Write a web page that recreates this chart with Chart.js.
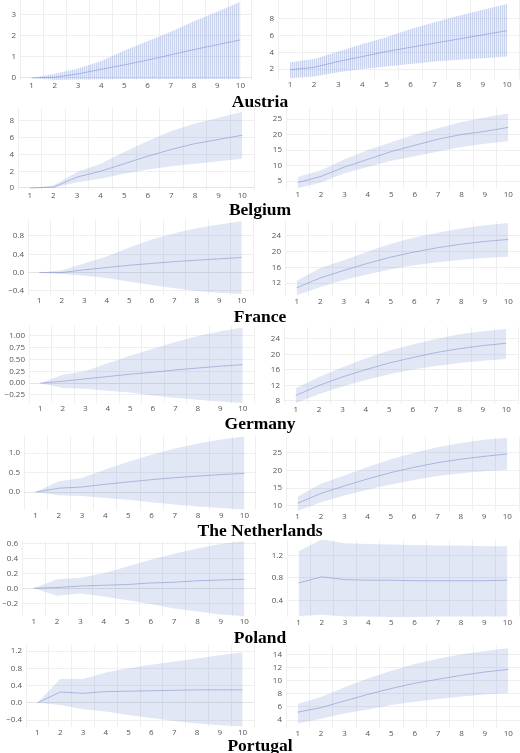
<!DOCTYPE html>
<html>
<head>
<meta charset="utf-8">
<script src="https://cdn.jsdelivr.net/npm/chart.js@4.4.1/dist/chart.umd.min.js"></script>
<style>
  body { margin: 0; background: #fff; width: 520px; height: 753px; overflow: hidden; position: relative; }
  canvas { position: absolute; }
  .country {
    position: absolute; left: 0; width: 520px; text-align: center;
    font: bold 17.5px "Liberation Serif", "Times New Roman", serif; line-height: 18px; color: #000;
  }
</style>
</head>
<body>
<script>
const steps = ['1', '2', '3', '4', '5', '6', '7', '8', '9', '10']

// Austria
const austriaLeftMean = [0, 0.03, 0.19, 0.41, 0.62, 0.85, 1.1, 1.35, 1.58, 1.81]
const austriaLeftUpper = [0, 0.2, 0.45, 0.8, 1.3, 1.75, 2.2, 2.7, 3.15, 3.63]
const austriaLeftLower = [0, -0.1, -0.08, -0.06, -0.05, -0.05, -0.05, -0.05, -0.05, -0.05]
const austriaLeftTicks = [0, 1, 2, 3]
const austriaRightMean = [1.9, 2.2, 2.9, 3.5, 4.1, 4.6, 5.1, 5.6, 6.1, 6.6]
const austriaRightUpper = [2.8, 3.2, 4.1, 5.0, 5.8, 6.8, 7.6, 8.4, 9.1, 9.8]
const austriaRightLower = [0.9, 1.1, 1.6, 2.0, 2.3, 2.6, 2.9, 3.1, 3.3, 3.5]
const austriaRightTicks = [2, 4, 6, 8]

// Belgium
const belgiumLeftMean = [0, 0.1, 1.3, 2.0, 2.9, 3.8, 4.6, 5.3, 5.8, 6.3]
const belgiumLeftUpper = [0, 0.3, 1.9, 2.9, 4.3, 5.6, 6.8, 7.7, 8.4, 9.1]
const belgiumLeftLower = [0, 0, 0.7, 1.1, 1.7, 2.2, 2.6, 2.9, 3.2, 3.5]
const belgiumLeftTicks = [0, 2, 4, 6, 8]
const belgiumRightMean = [4.5, 6.5, 9.5, 12, 14.5, 16.5, 18.5, 20, 21, 22.3]
const belgiumRightUpper = [6.3, 8.5, 12, 15, 17.5, 20, 22, 24, 25.5, 26.8]
const belgiumRightLower = [2.7, 4.5, 7.5, 9.5, 11.5, 13, 14.5, 16, 17, 17.8]
const belgiumRightTicks = [5, 10, 15, 20, 25]

// France
const franceLeftMean = [0, 0, 0.06, 0.11, 0.16, 0.2, 0.24, 0.27, 0.3, 0.33]
const franceLeftUpper = [0, 0.05, 0.2, 0.35, 0.55, 0.72, 0.86, 0.97, 1.05, 1.12]
const franceLeftLower = [0, -0.03, -0.07, -0.12, -0.2, -0.27, -0.34, -0.4, -0.44, -0.47]
const franceLeftTicks = [-0.4, 0, 0.4, 0.8]
const franceRightMean = [10.8, 13.3, 15.2, 17, 18.6, 19.9, 21, 21.9, 22.6, 23.1]
const franceRightUpper = [12.6, 15.8, 17.8, 20, 22, 23.6, 24.8, 25.9, 26.7, 27.3]
const franceRightLower = [8.9, 11, 12.8, 14.2, 15.5, 16.5, 17.3, 17.9, 18.4, 18.7]
const franceRightTicks = [12, 16, 20, 24]

// Germany
const germanyLeftMean = [0, 0.04, 0.09, 0.14, 0.19, 0.23, 0.28, 0.32, 0.36, 0.39]
const germanyLeftUpper = [0, 0.18, 0.26, 0.42, 0.58, 0.73, 0.87, 1.0, 1.1, 1.18]
const germanyLeftLower = [0, -0.1, -0.12, -0.16, -0.2, -0.26, -0.31, -0.35, -0.39, -0.42]
const germanyLeftTicks = [-0.25, 0, 0.25, 0.5, 0.75, 1]
const germanyRightMean = [9.4, 12, 14.2, 16.1, 17.8, 19.2, 20.5, 21.5, 22.3, 22.9]
const germanyRightUpper = [11.3, 14.2, 16.7, 19, 21, 22.6, 24, 25.2, 26, 26.6]
const germanyRightLower = [7.4, 9.8, 11.7, 13.4, 14.9, 16.1, 17, 17.8, 18.4, 18.8]
const germanyRightTicks = [8, 12, 16, 20, 24]

// The Netherlands
const netherlandsLeftMean = [0, 0.1, 0.13, 0.2, 0.26, 0.32, 0.37, 0.41, 0.45, 0.48]
const netherlandsLeftUpper = [0, 0.28, 0.36, 0.58, 0.78, 0.96, 1.12, 1.25, 1.35, 1.43]
const netherlandsLeftLower = [0, -0.08, -0.1, -0.15, -0.2, -0.26, -0.32, -0.37, -0.41, -0.45]
const netherlandsLeftTicks = [0, 0.5, 1]
const netherlandsRightMean = [10.7, 13.5, 15.6, 17.6, 19.4, 20.9, 22.2, 23.2, 24, 24.7]
const netherlandsRightUpper = [12.6, 16.2, 18.6, 21, 23.2, 25, 26.6, 27.8, 28.7, 29.3]
const netherlandsRightLower = [8.5, 11, 12.9, 14.5, 16, 17.3, 18.4, 19.2, 19.8, 20.2]
const netherlandsRightTicks = [10, 15, 20, 25]

// Poland
const polandLeftMean = [0, 0.01, 0.03, 0.04, 0.05, 0.07, 0.08, 0.1, 0.11, 0.12]
const polandLeftUpper = [0, 0.12, 0.14, 0.2, 0.29, 0.38, 0.46, 0.53, 0.59, 0.63]
const polandLeftLower = [0, -0.1, -0.07, -0.11, -0.16, -0.21, -0.27, -0.31, -0.35, -0.37]
const polandLeftTicks = [-0.2, 0, 0.2, 0.4, 0.6]
const polandRightMean = [0.71, 0.82, 0.77, 0.76, 0.76, 0.75, 0.75, 0.75, 0.75, 0.76]
const polandRightUpper = [1.28, 1.49, 1.42, 1.41, 1.4, 1.39, 1.38, 1.38, 1.37, 1.37]
const polandRightLower = [0.12, 0.14, 0.11, 0.11, 0.1, 0.1, 0.11, 0.11, 0.11, 0.11]
const polandRightTicks = [0.4, 0.8, 1.2]

// Portugal
const portugalLeftMean = [0, 0.25, 0.22, 0.26, 0.27, 0.28, 0.29, 0.3, 0.3, 0.3]
const portugalLeftUpper = [0, 0.55, 0.55, 0.7, 0.8, 0.88, 0.96, 1.03, 1.1, 1.17]
const portugalLeftLower = [0, -0.05, -0.15, -0.2, -0.28, -0.35, -0.42, -0.48, -0.52, -0.55]
const portugalLeftTicks = [-0.4, 0, 0.4, 0.8, 1.2]
const portugalRightMean = [5.2, 5.9, 6.9, 7.9, 8.8, 9.6, 10.2, 10.8, 11.3, 11.7]
const portugalRightUpper = [6.5, 7.5, 9, 10.3, 11.5, 12.5, 13.3, 14, 14.5, 14.9]
const portugalRightLower = [3.5, 4.2, 5, 5.6, 6.3, 6.8, 7.2, 7.6, 7.9, 8.1]
const portugalRightTicks = [4, 6, 8, 10, 12, 14]

const countries = ['Austria', 'Belgium', 'France', 'Germany', 'The Netherlands', 'Poland', 'Portugal']
const countryLabelY = [101, 209, 316, 423, 530, 637, 745]

const bandColor = 'rgba(110, 135, 210, 0.2)'
const lineColor = 'rgba(140, 152, 205, 0.6)'
const gridColor = '#efefef'
const tickColor = '#555'

// Austria's band is drawn with a fine vertical hatch
function hatch() {
  const c = document.createElement('canvas')
  c.width = 2
  c.height = 4
  const g = c.getContext('2d')
  g.fillStyle = 'rgba(110, 135, 210, 0.14)'
  g.fillRect(0, 0, 2, 4)
  g.fillStyle = 'rgba(110, 135, 210, 0.26)'
  g.fillRect(0, 0, 1, 4)
  return g.createPattern(c, 'repeat')
}

function fmt(v, dec) {
  return v.toFixed(dec).replace('-', '\u2212')
}

// area = [left, right, top, bottom] of the plotting area in page pixels
function drawPanel(p) {
  const padTop = 10
  const padRight = 2
  const xAxisH = 14
  const [aL, aR, aT, aB] = p.area
  const canvas = document.createElement('canvas')
  canvas.width = aR - p.left + padRight
  canvas.height = padTop + (aB - aT) + xAxisH
  canvas.style.left = p.left + 'px'
  canvas.style.top = (aT - padTop) + 'px'
  document.body.appendChild(canvas)

  new Chart(canvas, {
    type: 'line',
    data: {
      labels: steps,
      datasets: [
        { data: p.upper, fill: '+1', backgroundColor: p.hatched ? hatch() : bandColor, borderWidth: 0, pointRadius: 0 },
        { data: p.lower, fill: false, borderWidth: 0, pointRadius: 0 },
        { data: p.mean, fill: false, borderColor: lineColor, borderWidth: 1, pointRadius: 0 },
      ],
    },
    options: {
      responsive: false,
      animation: false,
      layout: { padding: { top: padTop, right: padRight, left: 0, bottom: 0 } },
      plugins: { legend: { display: false }, tooltip: { enabled: false } },
      scales: {
        x: {
          type: 'category',
          offset: true,
          grid: { offset: true, color: gridColor, drawTicks: false },
          border: { display: false },
          ticks: { color: tickColor, font: { family: 'Open Sans', size: 8 }, padding: 1, maxRotation: 0, autoSkip: false },
          afterFit: (s) => { s.height = xAxisH },
        },
        y: {
          min: p.range[0],
          max: p.range[1],
          grid: {
            color: (ctx) => (ctx.tick && ctx.tick.value === 0 ? '#e4e4e4' : gridColor),
            drawTicks: false,
          },
          border: { display: false },
          afterBuildTicks: (s) => { s.ticks = p.ticks.map((v) => ({ value: v })) },
          ticks: {
            color: tickColor,
            font: { family: 'Open Sans', size: 8 },
            padding: 4,
            callback: (v) => fmt(v, p.dec),
          },
          afterFit: (s) => { s.width = aL - p.left },
        },
      },
    },
  })
}

const panels = [
  { left: 0, area: [20, 252, 0, 80], range: [-0.1, 3.71], mean: austriaLeftMean, upper: austriaLeftUpper, lower: austriaLeftLower, ticks: austriaLeftTicks, dec: 0, hatched: true },
  { left: 260, area: [278, 519, 0, 79], range: [0.8, 10.28], mean: austriaRightMean, upper: austriaRightUpper, lower: austriaRightLower, ticks: austriaRightTicks, dec: 0, hatched: true },
  { left: 0, area: [18, 254, 108, 190], range: [-0.24, 9.55], mean: belgiumLeftMean, upper: belgiumLeftUpper, lower: belgiumLeftLower, ticks: belgiumLeftTicks, dec: 0 },
  { left: 260, area: [286, 520, 108, 189], range: [2.42, 28.55], mean: belgiumRightMean, upper: belgiumRightUpper, lower: belgiumRightLower, ticks: belgiumRightTicks, dec: 0 },
  { left: 0, area: [28, 253, 219, 295], range: [-0.49, 1.17], mean: franceLeftMean, upper: franceLeftUpper, lower: franceLeftLower, ticks: franceLeftTicks, dec: 1 },
  { left: 260, area: [285, 520, 221, 296], range: [8.7, 27.8], mean: franceRightMean, upper: franceRightUpper, lower: franceRightLower, ticks: franceRightTicks, dec: 0 },
  { left: 0, area: [29, 254, 326, 403], range: [-0.42, 1.21], mean: germanyLeftMean, upper: germanyLeftUpper, lower: germanyLeftLower, ticks: germanyLeftTicks, dec: 2 },
  { left: 260, area: [284, 518, 327, 404], range: [7.2, 27.1], mean: germanyRightMean, upper: germanyRightUpper, lower: germanyRightLower, ticks: germanyRightTicks, dec: 0 },
  { left: 0, area: [24, 256, 436, 510], range: [-0.46, 1.44], mean: netherlandsLeftMean, upper: netherlandsLeftUpper, lower: netherlandsLeftLower, ticks: netherlandsLeftTicks, dec: 1 },
  { left: 260, area: [286, 519, 437, 511], range: [8.5, 29.5], mean: netherlandsRightMean, upper: netherlandsRightUpper, lower: netherlandsRightLower, ticks: netherlandsRightTicks, dec: 0 },
  { left: 0, area: [22, 256, 541, 616], range: [-0.37, 0.63], mean: polandLeftMean, upper: polandLeftUpper, lower: polandLeftLower, ticks: polandLeftTicks, dec: 1 },
  { left: 260, area: [287, 519, 540, 617], range: [0.1, 1.48], mean: polandRightMean, upper: polandRightUpper, lower: polandRightLower, ticks: polandRightTicks, dec: 1 },
  { left: 0, area: [26, 254, 645, 727], range: [-0.56, 1.34], mean: portugalLeftMean, upper: portugalLeftUpper, lower: portugalLeftLower, ticks: portugalLeftTicks, dec: 1 },
  { left: 260, area: [286, 520, 645, 728], range: [2.8, 15.4], mean: portugalRightMean, upper: portugalRightUpper, lower: portugalRightLower, ticks: portugalRightTicks, dec: 0 },
]

panels.forEach(drawPanel)

countries.forEach((name, i) => {
  const div = document.createElement('div')
  div.className = 'country'
  div.textContent = name
  div.style.top = (countryLabelY[i] - 9) + 'px'
  document.body.appendChild(div)
})
</script>
</body>
</html>
